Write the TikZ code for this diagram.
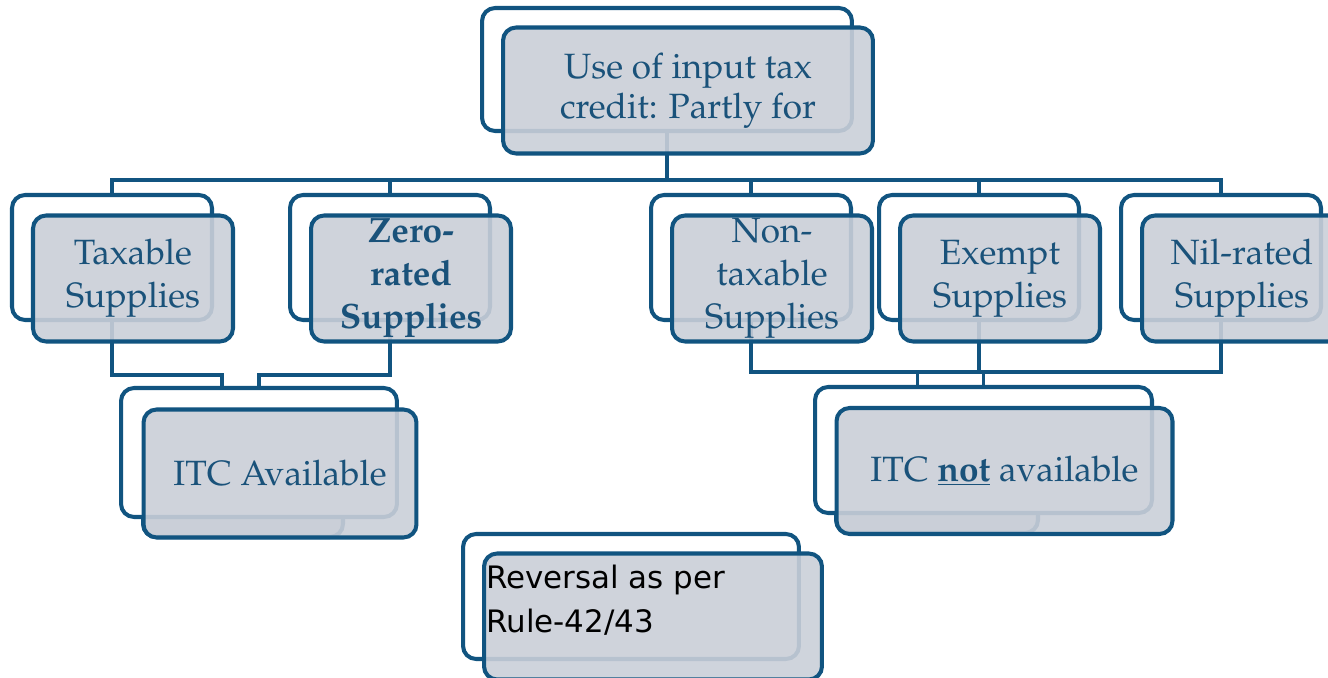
\documentclass[tikz,border=0pt]{standalone}
\usepackage[T1]{fontenc}
\usepackage{fontspec}
\newfontfamily\sansdv{DejaVu Sans}
\newfontfamily\libserif{Liberation Serif}
\IfFileExists{t1ppl.fd}
  {\newcommand\palfont{\fontencoding{T1}\fontfamily{ppl}\selectfont}}
  {\newcommand\palfont{\libserif}}
\usetikzlibrary{backgrounds}

\definecolor{bordblue}{RGB}{17,84,128}
\definecolor{txtblue}{RGB}{26,82,122}
\definecolor{boxgray}{RGB}{202,207,216}

\begin{document}
\begin{tikzpicture}[
    x=0.02cm, y=-0.02cm,
    backbox/.style={rectangle, rounded corners=0.26cm, draw=bordblue, line width=2.3pt, fill=white, minimum width=4cm, minimum height=2.5cm, inner sep=0pt},
    frontbox/.style={rectangle, rounded corners=0.26cm, draw=bordblue, line width=2.3pt, fill=boxgray, fill opacity=0.9, text opacity=1, minimum width=4cm, minimum height=2.52cm, inner sep=0pt, align=center, text=txtblue, font=\palfont\fontsize{20}{24.5}\selectfont},
    conn/.style={draw=bordblue, line width=2pt},
    revtxt/.style={font=\sansdv\fontsize{17.6}{25}\selectfont, text=black, inner sep=0pt, anchor=base west},
  ]
  \clip (0,0) rectangle (1328,678);

  %% ===== TOP =====
  \node[backbox, minimum width=7.4cm, minimum height=2.46cm] (useB) at (667,69.5) {};
  \node[frontbox, minimum width=7.4cm, font=\palfont\fontsize{20}{22.8}\selectfont]
    (useF) at ([shift={(21,21)}]useB.center) {Use of input tax\\credit: Partly for};

  %% ===== SUPPLIES (middle row) =====
  \node[backbox] (taxB)  at (112,257.5) {};
  \node[frontbox] (taxF) at ([shift={(21,21)}]taxB.center) {Taxable\\Supplies};

  \node[backbox] (zeroB) at (390,257.5) {};
  \node[frontbox, font=\palfont\bfseries\fontsize{20}{24.5}\selectfont]
    (zeroF) at ([shift={(21,21)}]zeroB.center) {Zero-\\rated\\Supplies};

  \node[backbox] (nonB)  at (751,257.5) {};
  \node[frontbox] (nonF) at ([shift={(21,21)}]nonB.center) {Non-\\taxable\\Supplies};

  \node[backbox] (exB)   at (979,257.5) {};
  \node[frontbox] (exF)  at ([shift={(21,21)}]exB.center) {Exempt\\Supplies};

  \node[backbox] (nilB)  at (1221,257.5) {};
  \node[frontbox] (nilF) at ([shift={(21,21)}]nilB.center) {Nil-rated\\Supplies};

  %% ===== ITC (bottom row) =====
  %% narrow copy left under each ITC box
  \node[frontbox, minimum height=2.56cm] (itcX) at (243,473) {};
  \node[backbox, minimum width=5.52cm, minimum height=2.58cm] (itcB) at (259,452.5) {};
  \node[frontbox, minimum width=5.46cm, minimum height=2.56cm]
    (itcF) at ([shift={(21,21)}]itcB.center) {ITC Available};

  \node[frontbox, minimum width=4.04cm] (itcnX) at (937,470) {};
  \node[backbox, minimum width=6.74cm, minimum height=2.52cm] (itcnB) at (983.5,450) {};
  \node[frontbox, minimum width=6.72cm]
    (itcnF) at ([shift={(21,21)}]itcnB.center) {ITC \underline{\textbf{not}} available};

  %% Reversal note
  \node[backbox, minimum width=6.72cm] (revB) at (631,596.5) {};
  \node[frontbox, minimum width=6.76cm] (revF) at ([shift={(22,20)}]revB.center) {};
  \node[revtxt] (revL1) at (486,588) {Reversal as per};
  \node[revtxt] (revL2) at (486,632) {Rule-42/43};

  %% ===== CONNECTORS =====
  \begin{scope}[on background layer]
    %% top -> supplies
    \draw[conn] (useB.south) -- ++(0,47) -| (taxB.north);
    \draw[conn] (useB.south) -- ++(0,47) -| (zeroB.north);
    \draw[conn] (useB.south) -- ++(0,47) -| (nonB.north);
    \draw[conn] (useB.south) -- ++(0,47) -| (exB.north);
    \draw[conn] (useB.south) -- ++(0,47) -| (nilB.north);

    %% supplies -> ITC available
    \draw[conn] (taxB.south)  -- ++(0,53) -| ([shift={(-37,0)}]itcB.north);
    \draw[conn] (zeroB.south) -- ++(0,53) -| (itcB.north);

    %% supplies -> ITC not available
    \draw[conn] (nonB.south) -- ++(0,50) -| (itcnB.north);
    \draw[conn] (exB.south)  -- ++(0,50) -| (itcnB.north);
    \draw[conn] (nilB.south) -- ++(0,50) -| ([shift={(-66,0)}]itcnB.north);
  \end{scope}

\end{tikzpicture}
\end{document}
